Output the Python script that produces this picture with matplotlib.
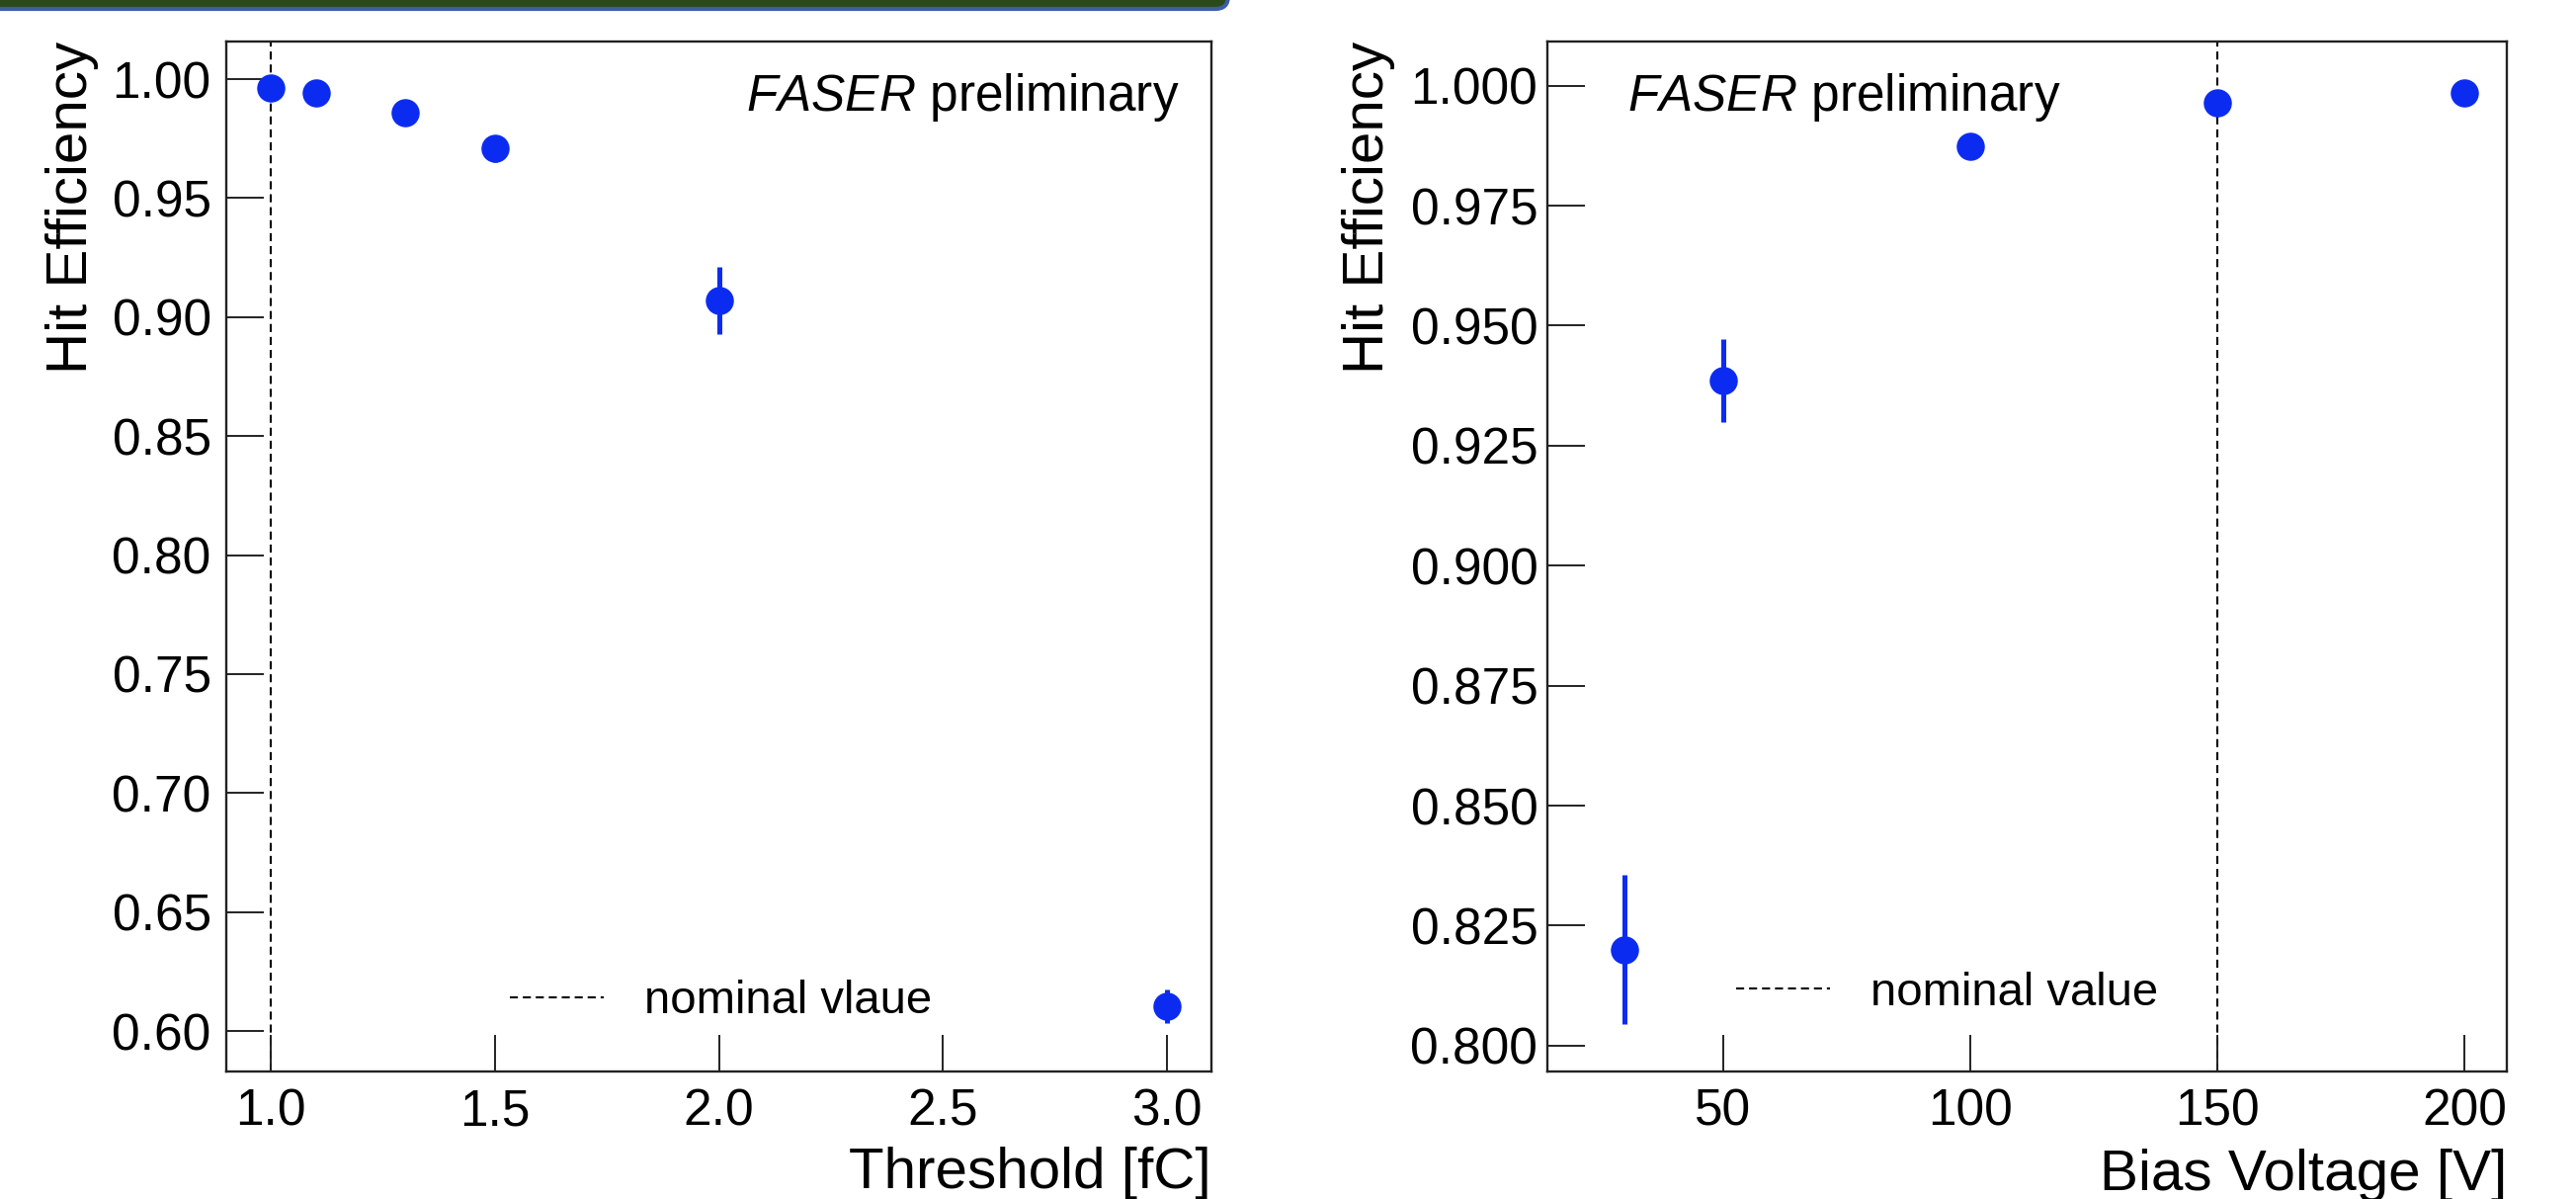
import matplotlib
matplotlib.use("Agg")
import matplotlib.pyplot as plt
from matplotlib.patches import FancyBboxPatch
from matplotlib.ticker import FormatStrFormatter

plt.rcParams["font.family"] = ["Liberation Sans", "DejaVu Sans"]
plt.rcParams["mathtext.fontset"] = "custom"
plt.rcParams["mathtext.rm"] = "Liberation Sans"
plt.rcParams["mathtext.it"] = "Liberation Sans:italic"

# ── Data ─────────────────────────────────────────────────────────────────────
threshold = [1.0, 1.1, 1.3, 1.5, 2.0, 3.0]
thr_eff = [0.9961, 0.9942, 0.9859, 0.9708, 0.9069, 0.6103]
thr_err = [0.002, 0.002, 0.003, 0.0056, 0.014, 0.007]
thr_nominal = 1.0

bias = [30, 50, 100, 150, 200]
bias_eff = [0.820, 0.9386, 0.9873, 0.9965, 0.9984]
bias_err = [0.0155, 0.0087, 0.001, 0.001, 0.001]
bias_nominal = 150

thr_yticks = [0.60, 0.65, 0.70, 0.75, 0.80, 0.85, 0.90, 0.95, 1.00]
thr_xticks = [1.0, 1.5, 2.0, 2.5, 3.0]
bias_yticks = [0.800, 0.825, 0.850, 0.875, 0.900, 0.925, 0.950, 0.975, 1.000]
bias_xticks = [50, 100, 150, 200]

BLUE = "#0b2cf0"
W, H = 2607, 1213


def style_axes(ax, ypad):
    for sp in ax.spines.values():
        sp.set_linewidth(1.7)
        sp.set_color("#222222")
    ax.tick_params(axis="both", direction="in", length=27, width=1.4,
                   labelsize=37, color="#222222")
    ax.tick_params(axis="y", pad=ypad)
    ax.tick_params(axis="x", pad=12)
    ax.tick_params(top=False, right=False)


def draw_panel(ax, x, y, yerr, nominal, legend_text, xlabel):
    ax.axvline(nominal, color="black", lw=1.5, linestyle=(0, (3.9, 2.4)),
               label=legend_text, zorder=1)
    ax.errorbar(x, y, yerr=yerr, fmt="o", color=BLUE, markersize=19.5,
                elinewidth=3.6, capsize=0, zorder=3)
    ax.set_xlabel(xlabel, fontsize=42, loc="right")
    ax.set_ylabel("Hit Efficiency", fontsize=42, loc="top")


fig = plt.figure(figsize=(W / 100, H / 100), dpi=100)

# slide header bar at the top-left (green with blue rim, rounded end)
bar = FancyBboxPatch((-30 / W, 1 - 9 / H), (1243 + 30) / W, 60 / H,
                     boxstyle="round,pad=0,rounding_size=0.005",
                     mutation_aspect=W / H,
                     transform=fig.transFigure, facecolor="#2a4a17",
                     edgecolor="#3c5ea6", linewidth=3)
fig.patches.append(bar)

# ── Left: threshold scan ────────────────────────────────────────────────────
ax1 = fig.add_axes([229 / W, 1 - 1084 / H, 997 / W, 1042 / H])
draw_panel(ax1, threshold, thr_eff, thr_err, thr_nominal,
           "nominal vlaue", "Threshold [fC]")
ax1.set_xlim(0.9, 3.1)
ax1.set_ylim(0.583, 1.0158)
ax1.set_xticks(thr_xticks)
ax1.set_yticks(thr_yticks)
ax1.xaxis.set_major_formatter(FormatStrFormatter("%.1f"))
ax1.yaxis.set_major_formatter(FormatStrFormatter("%.2f"))
style_axes(ax1, ypad=11)
ax1.yaxis.set_label_coords(-0.129, 1.0)
ax1.xaxis.set_label_coords(1.0, -0.073)
ax1.text(0.968, 0.946, r"$\mathit{FASER}$ preliminary", transform=ax1.transAxes,
         ha="right", va="center", fontsize=37)
ax1.legend(loc="center left", bbox_to_anchor=(0.288, 0.068), frameon=False,
           fontsize=34, handlelength=2.0, handletextpad=0.87,
           borderpad=0, borderaxespad=0)

# ── Right: bias voltage scan ────────────────────────────────────────────────
ax2 = fig.add_axes([1566 / W, 1 - 1084 / H, 971 / W, 1042 / H])
draw_panel(ax2, bias, bias_eff, bias_err, bias_nominal,
           "nominal value", "Bias Voltage [V]")
ax2.set_xlim(14.4, 208.6)
ax2.set_ylim(0.7946, 1.0092)
ax2.set_xticks(bias_xticks)
ax2.set_yticks(bias_yticks)
ax2.yaxis.set_major_formatter(FormatStrFormatter("%.3f"))
style_axes(ax2, ypad=7)
ax2.yaxis.set_label_coords(-0.159, 1.0)
ax2.xaxis.set_label_coords(1.0, -0.075)
ax2.text(0.083, 0.946, r"$\mathit{FASER}$ preliminary", transform=ax2.transAxes,
         ha="left", va="center", fontsize=37)
ax2.legend(loc="center left", bbox_to_anchor=(0.197, 0.076), frameon=False,
           fontsize=34, handlelength=2.0, handletextpad=0.87,
           borderpad=0, borderaxespad=0)

fig.savefig("out.png", dpi=100)
